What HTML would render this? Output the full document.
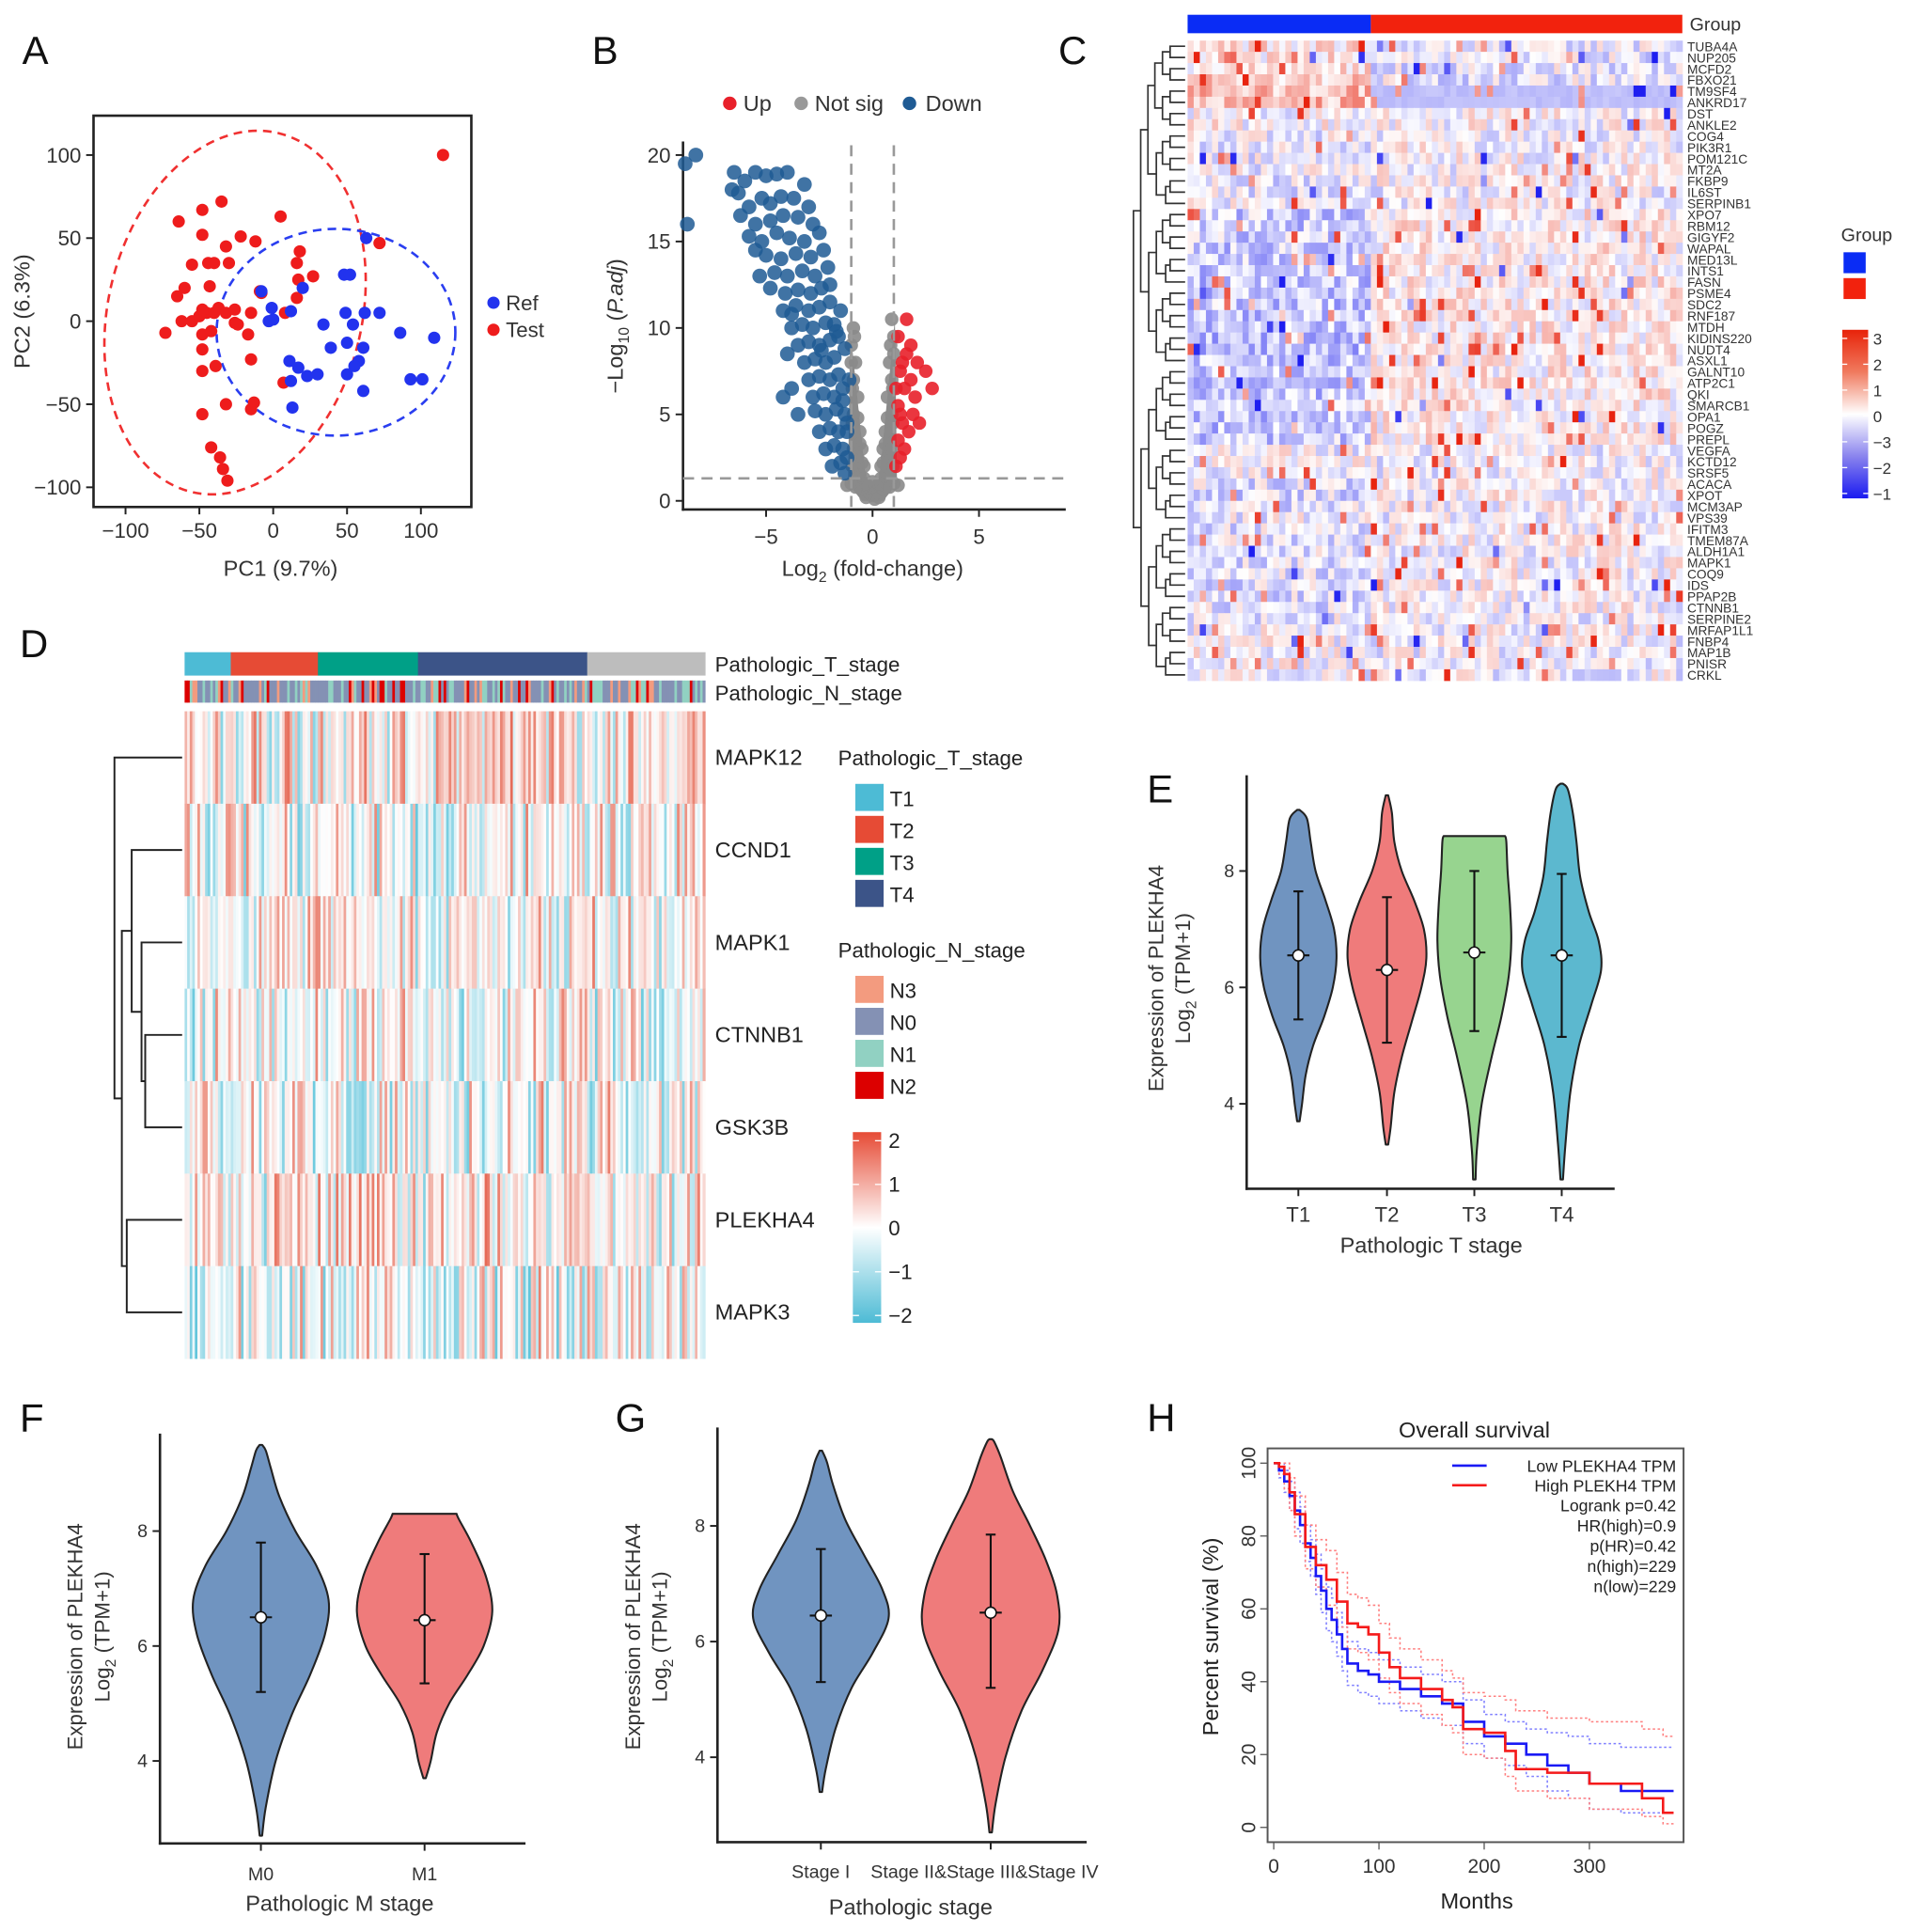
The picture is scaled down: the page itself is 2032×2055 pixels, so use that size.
<!DOCTYPE html>
<html><head><meta charset="utf-8"><style>
html,body{margin:0;padding:0;background:#fff;}
svg{display:block;font-family:"Liberation Sans",Arial,sans-serif;}
</style></head><body>
<svg id="fig" width="2032" height="2055" viewBox="0 0 1552 1570" preserveAspectRatio="none" xmlns="http://www.w3.org/2000/svg">
<rect x="0" y="0" width="1552" height="1570" fill="#fff"/>
<g font-size="32" fill="#111">
<text x="18" y="52">A</text>
<text x="481" y="52">B</text>
<text x="860" y="52">C</text>
<text x="16" y="534">D</text>
<text x="932" y="652">E</text>
<text x="16" y="1163">F</text>
<text x="500" y="1163">G</text>
<text x="932" y="1163">H</text>
</g>
</svg>
<script>
const NS="http://www.w3.org/2000/svg";
const svg=document.getElementById('fig');
function mk(tag,attrs,parent){const e=document.createElementNS(NS,tag);for(const k in attrs)e.setAttribute(k,attrs[k]);(parent||svg).appendChild(e);return e;}
function txt(s,attrs,parent){const e=mk('text',attrs,parent);e.textContent=s;return e;}
function hsh(i,j){let x=Math.sin(i*127.1+j*311.7+i*j*0.013)*43758.5453;return x-Math.floor(x);}

/* ================= PANEL A: PCA ================= */
const pcaRefX=[63,48,52,20,-8,-1,-3,0,12,34,49,62,72,54,86,109,39,50,61,11,17,23,30,58,55,50,12,93,101,61,13];
const pcaRefY=[50,28,28,20,18,8,0,1,6,-2,5,5,5,-2,-7,-10,-16,-13,-16,-24,-28,-33,-32,-24,-27,-32,-36,-35,-35,-42,-52];
const pcaTestX=[115,-73,-64,-48,-35,-48,5,-22,-12,-32,-55,-44,-40,-30,-60,-43,-65,-8,-62,-55,-50,-45,-48,-40,-37,-32,-26,-26,-24,-15,-48,-42,-17,-48,-15,-48,-39,-32,-13,-15,-48,-42,-36,-34,-31,7,8,16,18,17,16,27,72,-9];
const pcaTestY=[100,-7,60,67,72,52,63,51,48,45,34,35,35,35,20,21,15,17,0,0,3,5,7,5,8,5,7,-1,-2,5,-8,-6,-8,-17,-23,-30,-27,-50,-49,-53,-56,-76,-82,-89,-96,-37,5,35,42,25,14,27,47,18];
const pcaTicks=[-100,-50,0,50,100];
(function(){
 const g=mk('g',{});
 
 const ax=v=>222+v*1.2,ay=v=>261-v*1.35;
 const fr=mk('rect',{x:76,y:94,width:307,height:318,fill:'none',stroke:'#222','stroke-width':2},g);
 
 pcaTicks.forEach(t=>{
  mk('line',{x1:ax(t),x2:ax(t),y1:412,y2:418,stroke:'#222','stroke-width':1.5},g);
  const a=txt(String(t).replace('-','\u2212'),{x:ax(t),y:437,'font-size':17,'text-anchor':'middle',fill:'#333'},g);
  
  mk('line',{x1:70,x2:76,y1:ay(t),y2:ay(t),stroke:'#222','stroke-width':1.5},g);
  const b=txt(String(t).replace('-','\u2212'),{x:66,y:ay(t)+6,'font-size':17,'text-anchor':'end',fill:'#333'},g);
  
 });
 const e1=mk('ellipse',{cx:191,cy:254,rx:103,ry:150,transform:'rotate(13.7 191 254)',fill:'none',stroke:'#f03030','stroke-width':2,'stroke-dasharray':'7 5'},g);
 
 const e2=mk('ellipse',{cx:273,cy:270,rx:97,ry:84,fill:'none',stroke:'#2a3ef0','stroke-width':2,'stroke-dasharray':'7 5'},g);
 
 pcaTestX.forEach((x,i)=>{const c=mk('circle',{cx:ax(x),cy:ay(pcaTestY[i]),r:5,fill:'#ee1c1c'},g);
  });
 pcaRefX.forEach((x,i)=>{const c=mk('circle',{cx:ax(x),cy:ay(pcaRefY[i]),r:5,fill:'#2233ee'},g);
  });
 mk('circle',{cx:401,cy:246,r:5,fill:'#2233ee'},g);mk('circle',{cx:401,cy:268,r:5,fill:'#ee1c1c'},g);
 const l1=txt('Ref',{x:411,y:252,'font-size':17,fill:'#333'},g);
 const l2=txt('Test',{x:411,y:274,'font-size':17,fill:'#333'},g);
 const xt=txt('PC1 (9.7%)',{x:228,y:468,'font-size':18,'text-anchor':'middle',fill:'#333'},g);
 const yt=txt('PC2 (6.3%)',{x:24,y:253,'font-size':18,'text-anchor':'middle',fill:'#333',transform:'rotate(-90 24 253)'},g);
})();

/* ================= PANEL B: Volcano ================= */
const volDownX=[-8.3,-8.8,-8.7,-6.5,-6,-5.5,-5,-4.5,-4,-3.2,-6.3,-5.8,-5.2,-4.8,-4.3,-3.7,-3,-6.2,-5.5,-4.8,-4.2,-3.5,-2.8,-5.8,-5.2,-4.5,-3.9,-3.2,-2.5,-5,-4.3,-3.6,-2.9,-2.3,-4.6,-4,-3.3,-2.7,-2.1,-4.8,-4.1,-3.5,-2.9,-2.4,-4.2,-3.6,-3,-2.5,-2,-3.8,-3.3,-2.8,-2.2,-1.8,-3.5,-3,-2.5,-2,-1.6,-3.2,-2.7,-2.2,-1.8,-3,-2.5,-2,-1.6,-3.8,-2.8,-2.3,-1.8,-1.4,-3.5,-2.7,-2.2,-1.7,-1.3,-2.5,-2,-1.6,-1.2,-2.2,-1.8,-1.4,-1.2,-1.9,-1.5,-1.3,-4.2,-4,-3.8,-5.3,-5.5,-6.6,-2,-1.5,-1.3,-1.1,-1.2,-1.7,-2.4,-1.4];
const volDownY=[20,19.5,16,19,18.5,19,18.8,18.9,19,18.3,17.8,17,17.5,17.2,17.6,17.5,17,16.5,16,16.2,16.5,16.4,16,15.3,15,15.5,15.2,15,15.5,14.2,14,14.3,14.1,14.5,13.2,13,13.3,13,13.5,12.3,12,12.2,12,12.3,11,11.3,11,11.2,11.5,10,10.2,10,10.3,10.2,9,9.2,9,9.3,9.5,8,8.2,8,8.3,7,7.2,7,7.3,6.5,6,6.2,6,6.5,5,5.2,5,5.3,5,4,4.2,4,4.5,3,3.2,3,2.5,2,2.2,1.6,6,8.5,10.8,13,14.5,18,12.5,11,8.8,7,4,9.8,8.7,5.8];
const volUpX=[1.1,1.3,1.2,1.4,1.2,1.5,1.3,1.6,1.8,1.6,2.1,2.5,2,2.8,1.9,1.5,1.7,1.4,1.2,2.2,1.1,1.8,1.3];
const volUpY=[2,2.5,3.5,4.5,5.5,6.5,7.5,8.5,9,10.5,8,7.5,6,6.5,5,3,4,8,9.5,4.5,6.5,7,5];
const volNsX=[-0.9,-1,0.9,1,-0.8,0.8,-0.9,0.9,-0.7,0.7,-0.9,0.9,-0.6,0.6,-0.8,0.8,-0.5,0.5,-0.4,0.4,-0.7,0.7,-0.3,0.3,-0.6,0.6,0,-0.2,0.2,-1,1,-0.8,0.8,-0.95,0.95,-0.95,0.95,-0.9,0.9,-1,1,0.1,-0.5,0.5,-1.2,1.2,-0.85,0.85,-0.95,0.95,-0.3,0.3,-0.7,0.7,-0.6,0.6,-0.5,0.5,-0.4,0.4,-0.2,0.2,0,-0.1,0.1];
const volNsY=[10,9,10.5,9.5,8,8,7,7,6,6,5,5,4,4,3.5,3.5,3,3,2,2,2.5,2.5,1,1,1.5,1.5,0.3,0.5,0.5,1,1,0.8,0.8,6.5,6.5,4.5,4.5,3,3,8,8.5,0.1,0.7,0.7,0.9,0.9,9.5,9,2,2,0.2,0.2,4.8,4.8,3.3,3.3,2.2,2.2,1.3,1.3,0.8,0.8,1.1,0.4,0.4];
const volXTicks=[-5,0,5],volYTicks=[0,5,10,15,20];
(function(){
 const g=mk('g',{});
 const ax=v=>709+v*17.3,ay=v=>407-v*14.05;
 mk('line',{x1:555,x2:555,y1:115,y2:415,stroke:'#222','stroke-width':2},g);
 mk('line',{x1:554,x2:866,y1:414,y2:414,stroke:'#222','stroke-width':2},g);
 volXTicks.forEach(t=>{mk('line',{x1:ax(t),x2:ax(t),y1:414,y2:420,stroke:'#222','stroke-width':1.5},g);
  const a=txt(String(t).replace('-','\u2212'),{x:ax(t),y:442,'font-size':17,'text-anchor':'middle',fill:'#333'},g);});
 volYTicks.forEach(t=>{mk('line',{x1:549,x2:555,y1:ay(t),y2:ay(t),stroke:'#222','stroke-width':1.5},g);
  const a=txt(String(t),{x:545,y:ay(t)+6,'font-size':17,'text-anchor':'end',fill:'#333'},g);});
 const blob=mk('path',{d:`M${ax(-1.05)} ${ay(10)} L${ax(-0.3)} ${ay(1)} L${ax(0.3)} ${ay(1)} L${ax(1.05)} ${ay(10.5)} L${ax(1.15)} ${ay(1)} L${ax(0.5)} ${ay(0)} L${ax(-0.5)} ${ay(0)} L${ax(-1.15)} ${ay(1)} Z`,fill:'#8a8a8a'},g);
 
 volNsX.forEach((x,i)=>{const c=mk('circle',{cx:ax(x),cy:ay(volNsY[i]),r:5.5,fill:'#8a8a8a','fill-opacity':0.9},g);});
 volDownX.forEach((x,i)=>{const c=mk('circle',{cx:ax(x),cy:ay(volDownY[i]),r:6,fill:'#1f5b94','fill-opacity':0.85},g);});
 volUpX.forEach((x,i)=>{const c=mk('circle',{cx:ax(x),cy:ay(volUpY[i]),r:5.5,fill:'#e8202a','fill-opacity':0.9},g);});
 [-1,1].forEach(v=>mk('line',{x1:ax(v),x2:ax(v),y1:118,y2:414,stroke:'#999','stroke-width':2,'stroke-dasharray':'9 6'},g));
 mk('line',{x1:555,x2:866,y1:ay(1.3),y2:ay(1.3),stroke:'#999','stroke-width':2,'stroke-dasharray':'9 6'},g);
 mk('circle',{cx:593,cy:84,r:5.5,fill:'#e8202a'},g);mk('circle',{cx:651,cy:84,r:5.5,fill:'#999'},g);mk('circle',{cx:739,cy:84,r:5.5,fill:'#1f5b94'},g);
 [['Up',604],['Not sig',662],['Down',752]].forEach(([s,x])=>{const a=txt(s,{x:x,y:90,'font-size':18,fill:'#333'},g);});
 const xt=txt('',{x:709,y:468,'font-size':18,'text-anchor':'middle',fill:'#333'},g);
 xt.innerHTML='Log<tspan font-size="12" dy="5">2</tspan><tspan dy="-5"> (fold-change)</tspan>';
 
 const yt=txt('',{x:506,y:265,'font-size':18,'text-anchor':'middle',fill:'#333',transform:'rotate(-90 506 265)'},g);
 yt.innerHTML='\u2212Log<tspan font-size="12" dy="5">10</tspan><tspan dy="-5"> (</tspan><tspan font-style="italic">P.adj</tspan>)';
 
})();

/* ================= PANEL C: Heatmap ================= */
const cGenes=['TUBA4A','NUP205','MCFD2','FBXO21','TM9SF4','ANKRD17','DST','ANKLE2','COG4','PIK3R1','POM121C','MT2A','FKBP9','IL6ST','SERPINB1','XPO7','RBM12','GIGYF2','WAPAL','MED13L','INTS1','FASN','PSME4','SDC2','RNF187','MTDH','KIDINS220','NUDT4','ASXL1','GALNT10','ATP2C1','QKI','SMARCB1','OPA1','POGZ','PREPL','VEGFA','KCTD12','SRSF5','ACACA','XPOT','MCM3AP','VPS39','IFITM3','TMEM87A','ALDH1A1','MAPK1','COQ9','IDS','PPAP2B','CTNNB1','SERPINE2','MRFAP1L1','FNBP4','MAP1B','PNISR','CRKL'];
const cRefBias=[0.2,0.15,0.15,0.4,0.5,0.5,0,0.05,-0.1,-0.1,-0.1,-0.1,-0.15,-0.15,-0.1,-0.35,-0.35,-0.3,-0.35,-0.35,-0.35,-0.4,-0.4,-0.4,-0.4,-0.45,-0.45,-0.45,-0.4,-0.4,-0.4,-0.4,-0.4,-0.4,-0.4,-0.35,-0.05,-0.05,-0.05,-0.2,-0.25,-0.2,-0.1,-0.15,-0.15,-0.15,-0.2,-0.2,-0.2,-0.2,-0.2,-0.15,-0.05,0,0,-0.05,-0.05];
const cTestBias=[-0.1,-0.15,-0.15,-0.15,-0.45,-0.45,0,0,0,0,0,0,0,-0.05,0,0.1,0.1,0.1,0.1,0.1,0.1,0.1,0.1,0.1,0.1,0.1,0.1,0.1,0.1,0.1,0.1,0.1,0.1,0.1,0.1,0.1,-0.05,-0.05,-0.05,0,0,0,-0.05,0,0,0,0,0,0,0,0,-0.05,-0.05,-0.05,-0.05,-0.05,-0.05];
const cNRef=30,cNTest=51;
const cLegendTicks=['3','2','1','0','\u22123','\u22122','\u22121'];
function colC(v){v=Math.max(-1.6,Math.min(1.6,v));let t=Math.abs(v)/1.6;
 if(v>=0){return `rgb(${255-t*23|0},${255-t*220|0},${255-t*240|0})`;}
 return `rgb(${255-t*225|0},${255-t*225|0},${255-t*15|0})`;}
(function(){
 const g=mk('g',{});
 const x0=965,x1=1367,y0=33,y1=553,n=cNRef+cNTest,cw=(x1-x0)/n,rh=(y1-y0)/cGenes.length;
 const gb=mk('rect',{x:x0,y:12,width:cNRef*cw,height:15,fill:'#0a2cf5'},g);
 const gr=mk('rect',{x:x0+cNRef*cw,y:12,width:cNTest*cw,height:15,fill:'#f2220d'},g);
 const gt=txt('Group',{x:1373,y:25,'font-size':15,fill:'#333'},g);
 for(let r=0;r<cGenes.length;r++){
  for(let c=0;c<n;c++){
   const ref=c<cNRef;const b=ref?cRefBias[r]:cTestBias[r];
   let noise=(hsh(r+1,c+1)-0.5)*0.9;const s=hsh(c+7,r*3+2);
   if((r===4||r===5)&&!ref)noise*=0.15;
   if(s>0.95)noise+=1.2;else if(s<0.015)noise-=1.2;
   const cell=mk('rect',{x:x0+c*cw,y:y0+r*rh,width:cw+0.4,height:rh+0.4,fill:colC(b+noise)},g);
   
  }
  const gl=txt(cGenes[r],{x:1371,y:y0+r*rh+rh/2+4,'font-size':10.5,fill:'#333'},g);
  
 }
 const dg=mk('g',{stroke:'#333','stroke-width':1.3,fill:'none'},g);
 
 function tree(a,b,depth){
  if(a===b){return [963,y0+a*rh+rh/2];}
  const m=Math.floor((a+b)/2);const L=tree(a,m,depth+1),R=tree(m+1,b,depth+1);
  const size=b-a+1;const x=963-Math.min(42,6+Math.log2(size)*6.2+(size>30?6:0));
  mk('path',{d:`M${L[0]} ${L[1]} H${x} V${R[1]} H${R[0]}`},dg);return [x,(L[1]+R[1])/2];}
 tree(0,cGenes.length-1,0);
 const lt=txt('Group',{x:1496,y:196,'font-size':15,fill:'#333'},g);
 mk('rect',{x:1498,y:205,width:18,height:17,fill:'#0a2cf5'},g);mk('rect',{x:1498,y:226,width:18,height:17,fill:'#f2220d'},g);
 const gradC=mk('linearGradient',{id:'gc',x1:0,y1:0,x2:0,y2:1},svg);
 [['0','#e8230a'],['0.25','#f07a5e'],['0.5','#ffffff'],['0.75','#8a84ee'],['1','#1a1af0']].forEach(([o,c])=>mk('stop',{offset:o,'stop-color':c},gradC));
 const cb=mk('rect',{x:1497,y:268,width:21,height:137,fill:'url(#gc)'},g);
 cLegendTicks.forEach((s,i)=>{const y=275+i*21;mk('line',{x1:1497,x2:1501,y1:y,y2:y,stroke:'#fff'},g);mk('line',{x1:1514,x2:1518,y1:y,y2:y,stroke:'#fff'},g);
  const a=txt(s,{x:1522,y:y+5,'font-size':13,fill:'#333'},g);});
})();

/* ================= PANEL D: Heatmap ================= */
const dGenes=['MAPK12','CCND1','MAPK1','CTNNB1','GSK3B','PLEKHA4','MAPK3'];
const dRowBias=[0.2,0,0.1,0,0,0.15,-0.05];
const tStageNames=['T1','T2','T3','T4'];
const tStageCounts=[18,34,39,66,46];
const nStageNames=['N3','N0','N1','N2'];
const dLegendTicks=['2','1','0','\u22121','\u22122'];
(function(){
 const g=mk('g',{});
 const tCol=['#4dbbd5','#e64b35','#00a087','#3c5488','#bdbdbd'],nCol=['#f39b7f','#8491b4','#91d1c2','#dc0000'];
 const x0=150,x1=573,y0=578,y1=1104,n=tStageCounts.reduce((a,b)=>a+b,0),cw=(x1-x0)/n,rh=(y1-y0)/dGenes.length;
 let c0=0;tStageCounts.forEach((k,i)=>{const r=mk('rect',{x:x0+c0*cw,y:530,width:k*cw+0.3,height:19,fill:tCol[i]},g);c0+=k;});
 for(let c=0;c<n;c++){const s=hsh(c+3,91);const k=s<0.5?1:s<0.75?2:s<0.88?0:3;
  const r=mk('rect',{x:x0+c*cw,y:553,width:cw+0.3,height:18,fill:nCol[k]},g);}
 const a1=txt('Pathologic_T_stage',{x:581,y:546,'font-size':17,fill:'#222'},g);
 const a2=txt('Pathologic_N_stage',{x:581,y:569,'font-size':17,fill:'#222'},g);
 function colD(v){v=Math.max(-1.3,Math.min(1.3,v));const t=Math.abs(v)/1.3;
  if(v>=0)return `rgb(${255-t*25|0},${255-t*150|0},${255-t*170|0})`;return `rgb(${255-t*170|0},${255-t*62|0},${255-t*38|0})`;}
 for(let r=0;r<dGenes.length;r++){
  for(let c=0;c<n;c++){let u=hsh(r*13+5,c+1)-0.5;const v=dRowBias[r]+u*Math.abs(u)*4.2+(hsh(c,77)-0.5)*0.3;
   const cell=mk('rect',{x:x0+c*cw,y:y0+r*rh,width:cw+0.35,height:rh+0.3,fill:colD(v)},g);
   }
  const gl=txt(dGenes[r],{x:581,y:y0+r*rh+rh/2+6,'font-size':18,fill:'#222'},g);
 }
 const dy=i=>y0+i*rh+rh/2;
 const dd=mk('path',{d:`M148 ${dy(3)} H118 V${dy(4)} H148 M148 ${dy(2)} H115 V${(dy(3)+dy(4))/2} H118 M148 ${dy(1)} H107 V${(dy(2)+(dy(3)+dy(4))/2)/2} H115 M148 ${dy(5)} H103 V${dy(6)} H148 M107 ${(dy(1)+(dy(2)+(dy(3)+dy(4))/2)/2)/2} H99 V${(dy(5)+dy(6))/2} H103 M148 ${dy(0)} H93 V${((dy(1)+(dy(2)+(dy(3)+dy(4))/2)/2)/2+(dy(5)+dy(6))/2)/2} H99`,stroke:'#222','stroke-width':1.5,fill:'none'},g);
 
 const lt1=txt('Pathologic_T_stage',{x:681,y:622,'font-size':17,fill:'#222'},g);
 tStageNames.forEach((s,i)=>{const y=637+i*26;const r=mk('rect',{x:695,y:y,width:23,height:22,fill:tCol[i]},g);
  const a=txt(s,{x:723,y:y+18,'font-size':17,fill:'#222'},g);});
 const lt2=txt('Pathologic_N_stage',{x:681,y:778,'font-size':17,fill:'#222'},g);
 nStageNames.forEach((s,i)=>{const y=793+i*26;const r=mk('rect',{x:695,y:y,width:23,height:22,fill:nCol[i]},g);
  const a=txt(s,{x:723,y:y+18,'font-size':17,fill:'#222'},g);});
 const gd=mk('linearGradient',{id:'gd',x1:0,y1:0,x2:0,y2:1},svg);
 [['0','#e64b35'],['0.5','#ffffff'],['1','#4dbbd5']].forEach(([o,c])=>mk('stop',{offset:o,'stop-color':c},gd));
 const cb=mk('rect',{x:693,y:920,width:23,height:155,fill:'url(#gd)'},g);
 dLegendTicks.forEach((s,i)=>{const y=927+i*35.5;mk('line',{x1:693,x2:698,y1:y,y2:y,stroke:'#fff'},g);mk('line',{x1:711,x2:716,y1:y,y2:y,stroke:'#fff'},g);
  const a=txt(s,{x:722,y:y+6,'font-size':17,fill:'#222'},g);});
})();

/* ================= Violin helper ================= */
function smoothPath(pts){ // catmull-rom through pts
 let d='M'+pts[0][0]+' '+pts[0][1];
 for(let i=0;i<pts.length-1;i++){
  const p0=pts[Math.max(0,i-1)],p1=pts[i],p2=pts[i+1],p3=pts[Math.min(pts.length-1,i+2)];
  const c1x=p1[0]+(p2[0]-p0[0])/6,c1y=p1[1]+(p2[1]-p0[1])/6,c2x=p2[0]-(p3[0]-p1[0])/6,c2y=p2[1]-(p3[1]-p1[1])/6;
  d+=` C${c1x} ${c1y} ${c2x} ${c2y} ${p2[0]} ${p2[1]}`;}
 return d;}
function violinPanel(o){
 const g=mk('g',{});
 const ay=v=>o.y4-(v-4)*o.ppu;
 mk('line',{x1:o.xa,x2:o.xa,y1:o.ytop,y2:o.yb+1,stroke:'#222','stroke-width':2},g);
 mk('line',{x1:o.xa-1,x2:o.xend,y1:o.yb,y2:o.yb,stroke:'#222','stroke-width':2},g);
 o.yticks.forEach(t=>{mk('line',{x1:o.xa-6,x2:o.xa,y1:ay(t),y2:ay(t),stroke:'#222','stroke-width':1.5},g);
  const a=txt(String(t),{x:o.xa-10,y:ay(t)+5,'font-size':15,'text-anchor':'end',fill:'#333'},g);});
 o.cats.forEach((cat,i)=>{const cx=o.cx[i];
  mk('line',{x1:cx,x2:cx,y1:o.yb,y2:o.yb+6,stroke:'#222','stroke-width':1.5},g);
  const a=txt(cat,{x:cx+(o.labDx?o.labDx[i]:0),y:o.yb+o.labOff,'font-size':o.labSize||17,'text-anchor':'middle',fill:'#333'},g);
  const lv=o.levels[i],hw=o.widths[i];
  const right=lv.map((v,k)=>[cx+hw[k],ay(v)]);
  const left=lv.map((v,k)=>[cx-hw[k],ay(v)]).reverse();
  const d=smoothPath(right)+' L'+left[0][0]+' '+left[0][1]+smoothPath(left).replace(/^M[^C]*/,' ')+' Z';
  const p=mk('path',{d:d,fill:o.colors[i],stroke:'#222','stroke-width':1.6,'stroke-linejoin':'round'},g);
  
  const [lo,md,hi]=o.stats[i];
  mk('line',{x1:cx,x2:cx,y1:ay(lo),y2:ay(hi),stroke:'#111','stroke-width':1.6},g);
  mk('line',{x1:cx-4,x2:cx+4,y1:ay(lo),y2:ay(lo),stroke:'#111','stroke-width':1.6},g);
  mk('line',{x1:cx-4,x2:cx+4,y1:ay(hi),y2:ay(hi),stroke:'#111','stroke-width':1.6},g);
  mk('line',{x1:cx-9,x2:cx+9,y1:ay(md),y2:ay(md),stroke:'#111','stroke-width':1.6},g);
  const m=mk('circle',{cx:cx,cy:ay(md),r:4.5,fill:'#fff',stroke:'#111','stroke-width':1.2},g);
 });
 const xt=txt(o.xtitle,{x:o.xtx,y:o.xty,'font-size':18,'text-anchor':'middle',fill:'#333'},g);
 const y1=txt('Expression of PLEKHA4',{x:o.ytx,y:o.yty,'font-size':17,'text-anchor':'middle',fill:'#333',transform:`rotate(-90 ${o.ytx} ${o.yty})`},g);
 const x2=o.ytx+22;const y2=txt('',{x:x2,y:o.yty,'font-size':17,'text-anchor':'middle',fill:'#333',transform:`rotate(-90 ${x2} ${o.yty})`},g);
 y2.innerHTML='Log<tspan font-size="12" dy="5">2</tspan><tspan dy="-5"> (TPM+1)</tspan>';
}
/* ---- E ---- */
const eCats=['T1','T2','T3','T4'];
const eLevels=[[3.7,4.0,4.5,5.0,5.5,6.0,6.5,7.0,7.5,8.0,8.5,8.9,9.05],[3.3,3.6,4.2,4.8,5.4,6.0,6.5,7.0,7.5,8.0,8.5,9.0,9.3],[2.7,3.2,4.0,4.8,5.5,6.2,6.8,7.4,8.0,8.5,8.6],[2.7,3.3,4.2,5.0,5.7,6.3,6.8,7.3,7.9,8.5,9.0,9.4,9.5]];
const eWidths=[[1,3,6,12,21,28,31,29,22,14,10,7,1],[1,3,6,12,20,28,32,30,22,12,6,4,1],[1,2,6,14,22,28,30,29,27,26,25],[1,3,7,14,24,32,30,22,15,12,9,5,1]];
const eStats=[[5.45,6.55,7.65],[5.05,6.3,7.55],[5.25,6.6,8.0],[5.15,6.55,7.95]];
violinPanel({name:'violin-t-stage-panel',xa:1013,xend:1312,ytop:630,yb:966,y4:897,ppu:47.3,yticks:[4,6,8],cats:eCats,cx:[1055,1127,1198,1269],labOff:27,
 levels:eLevels,widths:eWidths,stats:eStats,colors:['#7094c0','#ef7b7b','#97d48f','#5cb8cf'],xtitle:'Pathologic T stage',xtx:1163,xty:1018,ytx:945,yty:795});
/* ---- F ---- */
const fCats=['M0','M1'];
const fLevels=[[2.7,3.2,4.0,4.8,5.5,6.2,6.8,7.4,8.0,8.6,9.1,9.4,9.5],[3.7,4.0,4.5,5.0,5.5,6.0,6.6,7.2,7.8,8.2,8.3]];
const fWidths=[[1,4,12,25,40,52,55,45,28,15,8,4,1],[1,5,10,20,35,48,55,50,38,28,26]];
const fStats=[[5.2,6.5,7.8],[5.35,6.45,7.6]];
violinPanel({name:'violin-m-stage-panel',xa:130,xend:427,ytop:1165,yb:1498,y4:1431,ppu:46.7,yticks:[4,6,8],cats:fCats,cx:[212,345],labOff:30,labSize:15,
 levels:fLevels,widths:fWidths,stats:fStats,colors:['#7094c0','#ef7b7b'],xtitle:'Pathologic M stage',xtx:276,xty:1553,ytx:67,yty:1330});
/* ---- G ---- */
const gCats=['Stage I','Stage II&Stage III&Stage IV'];
const gLevels=[[3.4,3.8,4.5,5.2,5.8,6.4,6.9,7.5,8.1,8.7,9.1,9.3],[2.7,3.2,4.0,4.8,5.5,6.2,6.8,7.4,8.0,8.6,9.2,9.45,9.5]];
const gWidths=[[1,4,12,25,42,55,50,35,20,10,5,1],[1,4,12,25,42,55,54,45,32,18,8,3,1]];
const gStats=[[5.3,6.45,7.6],[5.2,6.5,7.85]];
violinPanel({name:'violin-stage-panel',xa:583,xend:883,ytop:1160,yb:1497,y4:1428,ppu:47,yticks:[4,6,8],cats:gCats,cx:[667,805],labOff:29,labSize:15,labDx:[0,-5],
 levels:gLevels,widths:gWidths,stats:gStats,colors:['#7094c0','#ef7b7b'],xtitle:'Pathologic stage',xtx:740,xty:1556,ytx:520,yty:1330});

/* ================= PANEL H: KM ================= */
const kmLowT=[0,5,10,15,20,25,30,35,40,45,50,55,60,65,70,80,90,100,120,140,160,180,200,220,240,260,280,300,330,380];
const kmLowS=[100,98,95,91,87,83,78,74,69,65,60,57,53,49,45,43,42,40,38,36,34,29,25,23,20,17,15,12,10,10];
const kmLowHi=[100,100,98,95,92,88,83,79,75,71,66,63,59,55,51,49,48,46,44,42,40,35,31,29,27,26,25,23,22,22];
const kmLowLo=[100,96,92,87,82,78,73,69,64,59,54,51,47,43,39,37,36,34,32,30,28,23,19,17,14,10,8,5,4,4];
const kmHighT=[0,5,10,15,20,30,40,50,60,70,80,90,100,110,120,140,160,170,180,200,220,230,260,300,350,370,380];
const kmHighS=[100,99,97,92,86,77,72,68,62,56,55,53,48,44,41,38,35,33,27,26,21,16,15,12,8,4,4];
const kmHighHi=[100,100,100,96,91,83,79,76,70,64,63,61,56,52,49,46,43,41,37,36,35,32,30,29,27,25,25];
const kmHighLo=[100,97,93,87,80,71,66,61,55,49,48,46,41,37,34,31,28,26,20,19,14,10,8,5,3,1,1];
const kmXTicks=[0,100,200,300],kmYTicks=[0,20,40,60,80,100];
(function(){
 const g=mk('g',{});
 const ax=v=>1035+v*0.855,ay=v=>1485-v*2.96;
 const fr=mk('rect',{x:1030,y:1177,width:338,height:320,fill:'none',stroke:'#555','stroke-width':1.5},g);
 const tt=txt('Overall survival',{x:1198,y:1168,'font-size':18,'text-anchor':'middle',fill:'#222'},g);
 kmXTicks.forEach(t=>{mk('line',{x1:ax(t),x2:ax(t),y1:1497,y2:1503,stroke:'#555'},g);const a=txt(String(t),{x:ax(t),y:1522,'font-size':16,'text-anchor':'middle',fill:'#333'},g);});
 kmYTicks.forEach(t=>{mk('line',{x1:1024,x2:1030,y1:ay(t),y2:ay(t),stroke:'#555'},g);const a=txt(String(t),{x:1020,y:ay(t),'font-size':16,'text-anchor':'middle',fill:'#333',transform:`rotate(-90 1020 ${ay(t)})`},g);});
 const xt=txt('Months',{x:1200,y:1551,'font-size':18,'text-anchor':'middle',fill:'#222'},g);
 const yt=txt('Percent survival (%)',{x:990,y:1330,'font-size':18,'text-anchor':'middle',fill:'#222',transform:'rotate(-90 990 1330)'},g);
 function step(T,S){let d='M'+ax(T[0])+' '+ay(S[0]);for(let i=1;i<T.length;i++)d+=' H'+ax(T[i])+' V'+ay(S[i]);return d;}
 [[kmLowT,kmLowHi,'#8080ff','km-low-ci-upper'],[kmLowT,kmLowLo,'#8080ff','km-low-ci-lower'],[kmHighT,kmHighHi,'#ff8080','km-high-ci-upper'],[kmHighT,kmHighLo,'#ff8080','km-high-ci-lower']].forEach(([T,S,c,nm])=>{
  const p=mk('path',{d:step(T,S),fill:'none',stroke:c,'stroke-width':1.2,'stroke-dasharray':'2 2'},g);});
 const pl=mk('path',{d:step(kmLowT,kmLowS),fill:'none',stroke:'#1a1af5','stroke-width':2},g);
 const ph=mk('path',{d:step(kmHighT,kmHighS),fill:'none',stroke:'#f51a1a','stroke-width':2},g);
 mk('line',{x1:1180,x2:1208,y1:1191,y2:1191,stroke:'#1a1af5','stroke-width':2},g);
 mk('line',{x1:1180,x2:1208,y1:1207,y2:1207,stroke:'#f51a1a','stroke-width':2},g);
 const lg=[['Low PLEKHA4 TPM',1196],['High PLEKH4 TPM',1212]];
 lg.forEach(([s,y])=>{const a=txt(s,{x:1362,y:y,'font-size':13.5,'text-anchor':'end',fill:'#222'},g);});
 ['Logrank p=0.42','HR(high)=0.9','p(HR)=0.42','n(high)=229','n(low)=229'].forEach((s,i)=>{const a=txt(s,{x:1362,y:1228+i*16.5,'font-size':13.5,'text-anchor':'end',fill:'#222'},g);});
})();
</script>
</body></html>
